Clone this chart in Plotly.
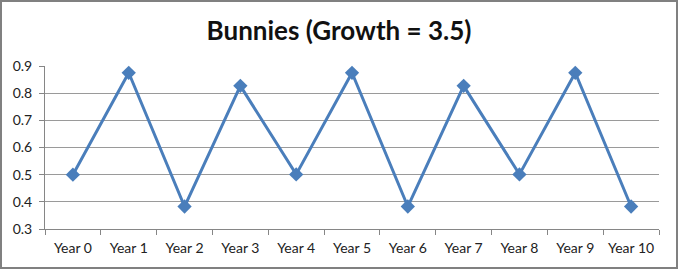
import plotly.graph_objects as go

years = [f"Year {i}" for i in range(11)]
bunnies = [0.5, 0.875, 0.3828, 0.8269, 0.5009, 0.875, 0.3828, 0.8269, 0.5009, 0.875, 0.3828]

W, H = 678, 269
ml, mr, mt, mb = 45, 19, 66, 40
pw, ph = W - ml - mr, H - mt - mb

fig = go.Figure()
fig.add_trace(go.Scatter(
    x=years, y=bunnies, mode="lines+markers",
    line=dict(color="#4a7ebb", width=3),
    marker=dict(symbol="diamond", size=11, color="#4a7ebb"),
    cliponaxis=False,
))

fig.update_layout(
    width=W, height=H,
    margin=dict(l=ml, r=mr, t=mt, b=mb),
    paper_bgcolor="white", plot_bgcolor="white",
    showlegend=False,
    title=dict(text="<b>Bunnies (Growth = 3.5)</b>", x=0.5, xanchor="center",
               y=1 - 31 / H, yanchor="middle",
               font=dict(family="Lato, Open Sans, sans-serif", size=26, color="#111111")),
    font=dict(family="Lato, Open Sans, sans-serif", size=14, color="#222222"),
    xaxis=dict(type="category", range=[-0.5, 10.5], tickson="boundaries",
               showline=True, linecolor="#868686", linewidth=1,
               ticks="outside", ticklen=5, tickcolor="#868686",
               ticklabelstandoff=6,
               showgrid=False, zeroline=False, fixedrange=True),
    yaxis=dict(range=[0.3, 0.9], dtick=0.1, tick0=0.3, tickformat=".1f",
               showline=True, linecolor="#868686", linewidth=1,
               ticks="outside", ticklen=5, tickcolor="#868686",
               ticklabelstandoff=4,
               showgrid=True, gridcolor="#9a9a9a", gridwidth=1,
               zeroline=False, fixedrange=True),
)

# outer border around the whole chart
fig.add_shape(type="rect", xref="paper", yref="paper",
              x0=(-ml + 1) / pw, x1=1 + (mr - 1) / pw,
              y0=(-mb + 1) / ph, y1=1 + (mt - 1) / ph,
              line=dict(color="#808080", width=2), fillcolor="rgba(0,0,0,0)",
              layer="above")

fig.write_html("out.html")
